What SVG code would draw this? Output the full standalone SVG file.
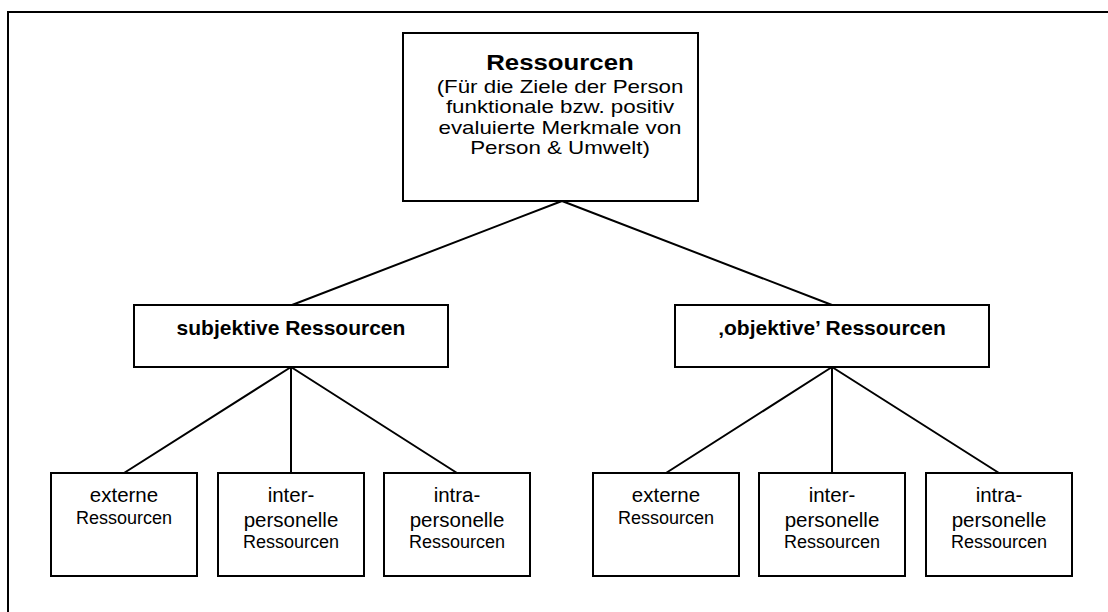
<svg xmlns="http://www.w3.org/2000/svg" width="1108" height="612" viewBox="0 0 1108 612">
<style>
.box{fill:#fff;stroke:#000;stroke-width:2}
.ln{stroke:#000;stroke-width:2;fill:none}
text{font-family:"Liberation Sans",Arial,sans-serif;fill:#000;text-anchor:middle}
.b{font-weight:bold}
.big{font-size:20.5px}
.sm{font-size:18px}
</style>
<rect width="1108" height="612" fill="#fff"/>
<path class="ln" d="M8,612 V12 H1110"/>
<g id="connectors">
<path class="ln" d="M562,201 L292,305 M562,201 L832,305"/>
<path class="ln" d="M291,367 L124,473 M291,367 L291,473 M291,367 L457,473"/>
<path class="ln" d="M832,367 L666,473 M832,367 L832,473 M832,367 L999,473"/>
</g>
<g id="root">
<rect class="box" x="403" y="33" width="295" height="168"/>
<g transform="translate(560,0) scale(1.2,1)">
<text class="b" x="0" y="70" font-size="21.5">Ressourcen</text>
<text x="0" font-size="18.6"><tspan x="0" y="93">(Für die Ziele der Person</tspan><tspan x="0" y="113.5">funktionale bzw. positiv</tspan><tspan x="0" y="134">evaluierte Merkmale von</tspan><tspan x="0" y="154.5">Person &amp; Umwelt)</tspan></text>
</g>
</g>
<g id="subj">
<rect class="box" x="134" y="305" width="314" height="62"/>
<text class="b" x="291" y="335" font-size="21">subjektive Ressourcen</text>
</g>
<g id="obj">
<rect class="box" x="675" y="305" width="314" height="62"/>
<text class="b" x="832" y="335" font-size="21">‚objektive’ Ressourcen</text>
</g>
<g id="s1"><rect class="box" x="51" y="473" width="146" height="103"/><text class="big" x="124" y="502">externe</text><text class="sm" x="124" y="524">Ressourcen</text></g>
<g id="s2"><rect class="box" x="218" y="473" width="146" height="103"/><text class="big" x="291" y="502">inter-</text><text class="big" x="291" y="527">personelle</text><text class="sm" x="291" y="548">Ressourcen</text></g>
<g id="s3"><rect class="box" x="384" y="473" width="146" height="103"/><text class="big" x="457" y="502">intra-</text><text class="big" x="457" y="527">personelle</text><text class="sm" x="457" y="548">Ressourcen</text></g>
<g id="o1"><rect class="box" x="593" y="473" width="146" height="103"/><text class="big" x="666" y="502">externe</text><text class="sm" x="666" y="524">Ressourcen</text></g>
<g id="o2"><rect class="box" x="759" y="473" width="146" height="103"/><text class="big" x="832" y="502">inter-</text><text class="big" x="832" y="527">personelle</text><text class="sm" x="832" y="548">Ressourcen</text></g>
<g id="o3"><rect class="box" x="926" y="473" width="146" height="103"/><text class="big" x="999" y="502">intra-</text><text class="big" x="999" y="527">personelle</text><text class="sm" x="999" y="548">Ressourcen</text></g>
</svg>
